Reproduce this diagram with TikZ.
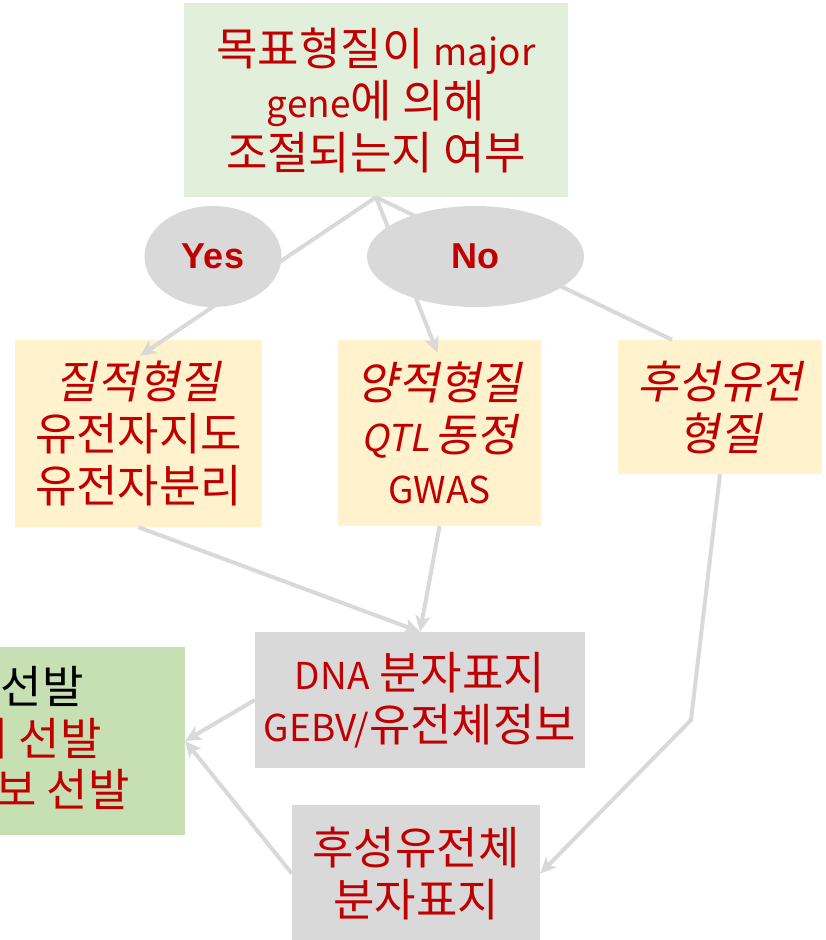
\documentclass[tikz,border=0pt]{standalone}
\usepackage{fontspec}
\setmainfont{Noto Sans CJK KR}
\newfontfamily\krit{Noto Sans CJK KR}[FakeSlant=0.2]
\newfontfamily\arialf{Liberation Sans}
\newcommand{\la}[1]{{\fontsize{37}{52}\selectfont #1}}
\usetikzlibrary{arrows.meta,shapes.geometric}
\definecolor{tred}{HTML}{C00000}
\definecolor{lgreen}{HTML}{E2EFDA}
\definecolor{lyellow}{HTML}{FFF2CC}
\definecolor{lgray}{HTML}{D9D9D9}
\definecolor{mgreen}{HTML}{C6E0B4}
\definecolor{conncol}{HTML}{D9D9D9}
\begin{document}
\begin{tikzpicture}[x=1pt,y=-1pt,
  box/.style={rectangle, inner sep=0pt, align=center, text=tred,
    font=\fontsize{45}{52}\selectfont},
  ell/.style={ellipse, fill=lgray, inner sep=0pt, text=tred,
    font=\arialf\bfseries\fontsize{36}{40}\selectfont},
  seltext/.style={anchor=base east, inner sep=0pt, font=\fontsize{45}{52}\selectfont},
  conn/.style={draw=conncol, line width=4pt},
  arr/.style={conn, -{Stealth[length=16pt,width=15pt,inset=4pt]}}]
\useasboundingbox (0,0) rectangle (825,940);
\clip (0,0) rectangle (825,940);
% boxes
\node[box, fill=lgreen, minimum width=384pt, minimum height=194pt] (top) at (376,100)
  {목표형질이 \la{major}\\\la{gene}에 의해\\조절되는지 여부};
\node[box, fill=lyellow, minimum width=247pt, minimum height=187pt] (qual) at (138.5,433.5)
  {{\krit 질적형질}\\유전자지도\\유전자분리};
\node[box, fill=lyellow, minimum width=203pt, minimum height=186pt] (quant) at (439.5,433)
  {{\krit 양적형질}\\{\krit \la{QTL}\kern5pt 동정}\\\la{GWAS}};
\node[box, fill=lyellow, minimum width=204pt, minimum height=134pt, font=\krit\fontsize{45}{52}\selectfont] (epi) at (720,407)
  {후성유전\\형질};
\node[box, fill=lgray, minimum width=330pt, minimum height=136pt] (dna) at (420,700)
  {\la{DNA} 분자표지\\\la{GEBV/}유전체정보};
\node[box, fill=lgray, minimum width=248pt, minimum height=137pt] (epimark) at (416,873.5)
  {후성유전체\\분자표지};
\node[box, fill=mgreen, minimum width=414pt, minimum height=188pt] (sel) at (-22,741) {};
\node[seltext, text=black] (sel1) at (84,703) {표현형 선발};
\node[seltext, text=tred] (sel2) at (102,755) {분자표지 선발};
\node[seltext, text=tred] (sel3) at (130,806) {유전체정보 선발};
% connectors
\draw[arr] (top.south) -- ([xshift=1.5pt,yshift=-16pt]qual.north);
\draw[arr] (top.south) -- ([xshift=-2pt,yshift=-13pt]quant.north);
\draw[conn] (top.south) -- ([xshift=-48pt]epi.north);
\draw[arr] (qual.south) -- (dna.north);
\draw[arr] (quant.south) -- (dna.north);
\draw[arr] (dna.west) -- (sel.east);
\draw[arr] (epimark.west) -- (sel.east);
\coordinate (bend) at (691,720);
\draw[arr] (epi.south) -- (bend) -- (epimark.east);
% decision ellipses
\node[ell, minimum width=137pt, minimum height=101pt] (yes) at (213,256.5) {Yes};
\node[ell, minimum width=217pt, minimum height=101pt] (no) at (475.5,256.5) {No};
\end{tikzpicture}
\end{document}
